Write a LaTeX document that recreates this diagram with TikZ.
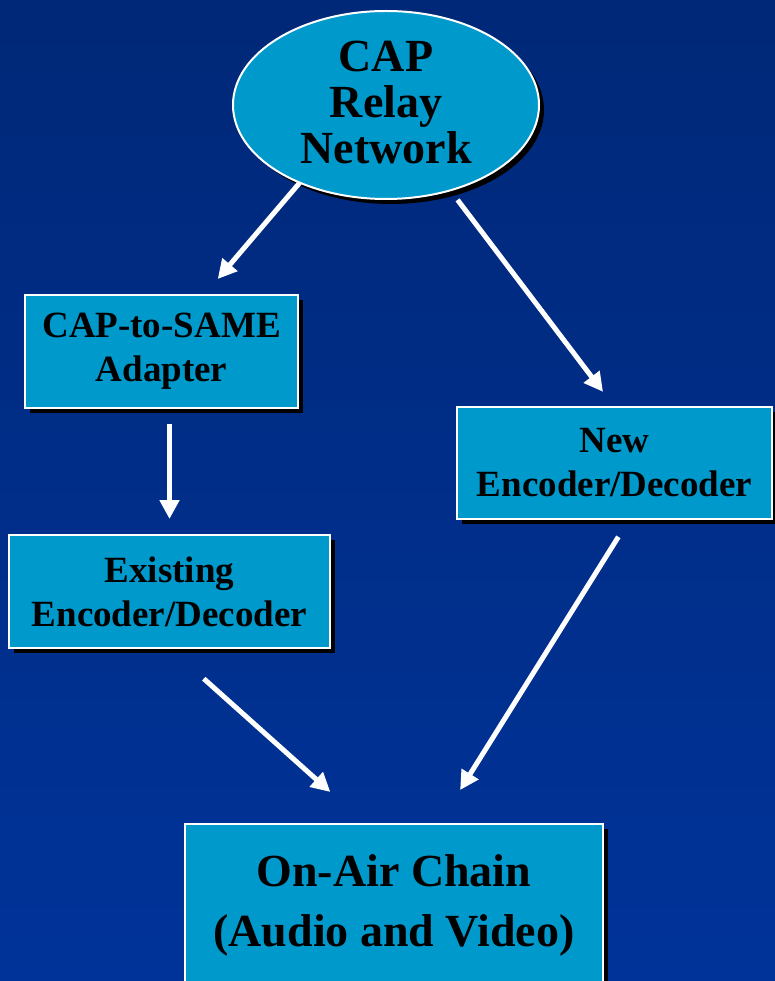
\documentclass[tikz,border=0pt]{standalone}
\usepackage{fontspec}
\setmainfont{Liberation Serif}
\usetikzlibrary{shapes.geometric, shadows, arrows.meta}

\definecolor{capblue}{RGB}{0,153,204}
\definecolor{bgtop}{RGB}{0,40,120}
\definecolor{bgmid}{RGB}{0,49,148}
\definecolor{bgbottom}{RGB}{0,51,153}

\begin{document}
\begin{tikzpicture}[x=1pt, y=-1pt,
    shade box/.style={drop shadow={shadow xshift=5pt, shadow yshift=-5pt, fill=black, opacity=1}},
    box/.style={rectangle, draw=white, line width=2pt, fill=capblue, text=black, align=center,
        inner sep=0pt, outer sep=0pt, shade box, font=\bfseries\fontsize{37}{44}\selectfont},
    cloud/.style={ellipse, draw=white, line width=2pt, fill=capblue, text=black, align=center,
        inner sep=0pt, outer sep=0pt, shade box, font=\bfseries\fontsize{46}{46}\selectfont},
    arr/.style={draw=white, line width=5pt, -{Triangle[length=19pt, width=19pt]}}]
    \useasboundingbox (0,0) rectangle (775,981);
    \shade[top color=bgtop, middle color=bgmid, bottom color=bgbottom] (0,0) rectangle (775,981);

    % Nodes
    \node[cloud, minimum width=306pt, minimum height=188pt] (cap) at (386,105) {CAP\\Relay\\Network\vspace{6pt}};
    \node[box, minimum width=273pt, minimum height=113pt] (adapter) at (161.5,351.5) {CAP-to-SAME\\Adapter};
    \node[box, minimum width=321pt, minimum height=113pt] (existing) at (169.5,591.5) {Existing\\Encoder/Decoder};
    \node[box, minimum width=315pt, minimum height=112pt] (new) at (614.5,463) {New\\Encoder/Decoder};
    \node[box, minimum width=418pt, minimum height=162pt, font=\bfseries\fontsize{46}{60}\selectfont] (onair) at (394,905) {On-Air Chain\\(Audio and Video)};

    % Arrows
    \draw[arr, shorten >=21pt] (cap.222) -- (adapter.53);
    \draw[arr, shorten <=12pt, shorten >=19pt] (cap.307) -- (new.north);
    \draw[arr, shorten <=16pt, shorten >=16pt] (adapter.south -| existing.north) -- (existing.north);
    \draw[arr, shorten <=46pt, shorten >=48pt] (existing.south) -- (onair.109);
    \draw[arr, shorten <=21pt, shorten >=40pt] (new.285) -- (onair.61);
\end{tikzpicture}
\end{document}
